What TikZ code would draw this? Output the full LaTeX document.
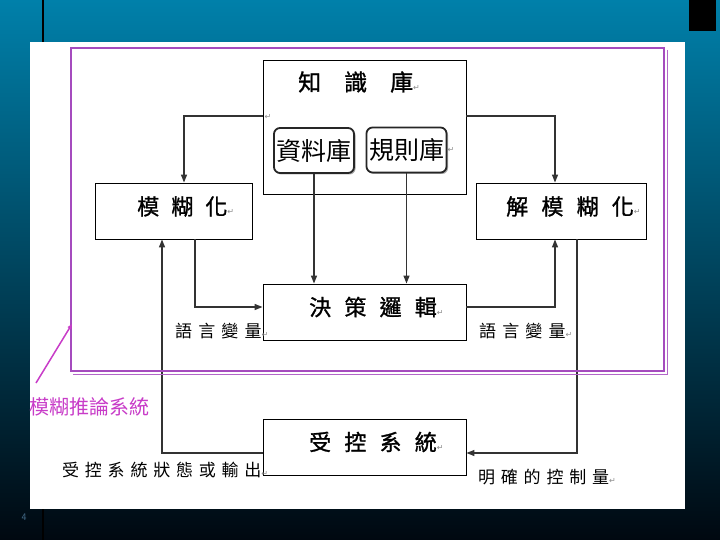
\documentclass[tikz,border=0pt]{standalone}
\usepackage{fontspec}
\usetikzlibrary{arrows.meta,positioning,shadows}
\newfontfamily\cjk{Noto Sans CJK TC}
\newfontfamily\cjkb[FakeBold=1.2]{Noto Sans CJK TC}
\newfontfamily\symf{DejaVu Sans}
\definecolor{slidetop}{RGB}{0,128,170}
\definecolor{slidemid}{RGB}{0,95,125}
\definecolor{slidebot}{RGB}{0,8,16}
\definecolor{frameviolet}{RGB}{165,75,190}
\definecolor{notemagenta}{RGB}{200,60,200}
\definecolor{pagegray}{RGB}{70,110,140}
\newcommand\pmark{{\symf\fontsize{8}{8}\selectfont\color{black!45}↵}}
\newcommand\wgap[1][0.55em]{\hspace{#1}}
\tikzset{
  box/.style={draw=black, line width=0.9pt, inner sep=0pt},
  basebox/.style={draw=black!85, line width=1.8pt, rounded corners=6pt, inner sep=0pt,
    minimum width=80pt, minimum height=45pt, font=\cjk\fontsize{25}{25}\selectfont,
    fill=white, drop shadow={shadow xshift=1.5pt, shadow yshift=-1.5pt, fill=black!35, opacity=1}},
  title/.style={anchor=west, inner sep=0pt, font=\cjkb\fontsize{22}{22}\selectfont},
  tag/.style={anchor=west, inner sep=0pt, font=\cjk\fontsize{17}{17}\selectfont},
  flow/.style={-{Triangle[length=8pt,width=6pt]}, line width=1.3pt, draw=black!80},
}
\begin{document}
\begin{tikzpicture}[x=1pt, y=-1pt]
    % --- 背景 ---
    \useasboundingbox (0,0) rectangle (720,540);
    \shade[top color=slidetop, middle color=slidemid, bottom color=slidebot] (0,0) rectangle (720,540);
    \draw[black, line width=2.7pt] (43,0) -- (43,540);
    \fill[black] (689,0) rectangle (716,31);
    \fill[white] (30,42) rectangle (685,509);
    \node[font=\sffamily\fontsize{10}{10}\selectfont, text=pagegray] (pgno) at (24,517) {4};

    % --- 知識庫 ---
    \node[box, minimum width=203pt, minimum height=134pt] (kb) at (364.5,127) {};
    \node[title, font=\cjkb\fontsize{23}{23}\selectfont] (kbt) at (298,82) {知\wgap[1em]識\wgap[1em]庫\pmark};
    \node[inner sep=0pt] (kbm) at (268,117) {\pmark};
    \node[basebox] (db) at (314,150.5) {資料庫};
    \node[basebox] (rb) at (406.5,150) {規則庫};
    \node[anchor=west, inner sep=0pt] (rbm) at (rb.east) {\pmark};

    % --- 模糊化 / 解模糊化 ---
    \node[box, minimum width=157pt, minimum height=56pt] (fz) at (173.5,211) {};
    \node[title] (fzt) at (137,206.5) {模\wgap 糊\wgap 化\pmark};
    \node[box, minimum width=170pt, minimum height=56pt] (dfz) at (561,211) {};
    \node[title] (dfzt) at (506,206.5) {解\wgap[0.6em]模\wgap[0.6em]糊\wgap[0.6em]化\pmark};

    % --- 決策邏輯 / 受控系統 ---
    \node[box, minimum width=203pt, minimum height=56pt] (dl) at (364.5,312) {};
    \node[title] (dlt) at (309,307) {決\wgap[0.6em]策\wgap[0.6em]邏\wgap[0.6em]輯\pmark};
    \node[box, minimum width=203pt, minimum height=56pt] (cs) at (364.5,447) {};
    \node[title] (cst) at (309,442) {受\wgap[0.6em]控\wgap[0.6em]系\wgap[0.6em]統\pmark};

    % --- 連線 ---
    \draw[flow] ([yshift=11pt]kb.west) -| ([xshift=10.5pt]fz.north);
    \draw[flow] ([yshift=11pt]kb.east) -| ([xshift=-6pt]dfz.north);
    \draw[flow] (db.south) -- (db.south |- dl.north);
    \draw[flow] (rb.south) -- (rb.south |- dl.north);
    \draw[flow] ([xshift=21.5pt]fz.south) |- ([yshift=5pt]dl.west);
    \draw[flow] ([yshift=5pt]dl.east) -| ([xshift=-6pt]dfz.south);
    \draw[flow] ([xshift=16pt]dfz.south) |- ([yshift=-6pt]cs.east);
    \draw[flow] ([yshift=-6pt]cs.west) -| ([xshift=-11.5pt]fz.south);

    % --- 標籤 ---
    \node[tag] (lvl) at (175,331) {語\wgap[0.36em]言\wgap[0.36em]變\wgap[0.36em]量\pmark};
    \node[tag] (lvr) at (479,331) {語\wgap[0.36em]言\wgap[0.36em]變\wgap[0.36em]量\pmark};
    \node[tag] (outl) at (62,470) {受\wgap[0.34em]控\wgap[0.34em]系\wgap[0.34em]統\wgap[0.34em]狀\wgap[0.34em]態\wgap[0.34em]或\wgap[0.34em]輸\wgap[0.34em]出\pmark};
    \node[tag] (ctrl) at (478,477) {明\wgap[0.34em]確\wgap[0.34em]的\wgap[0.34em]控\wgap[0.34em]制\wgap[0.34em]量\pmark};

    % --- 模糊推論系統 外框 ---
    \draw[frameviolet, line width=2pt] (71,48) rectangle (664,371);
    \draw[frameviolet!85, line width=0.8pt] (667,50) -- (667,374) -- (73,374);
    \node[anchor=west, inner sep=0pt, text=notemagenta, font=\cjk\fontsize{20}{20}\selectfont] (fis) at (29,407) {模糊推論系統};
    \coordinate (fistail) at (36,383);
    \coordinate (fistip) at (72,324);
    \draw[-{Triangle[length=5pt,width=4pt]}, notemagenta, line width=1.5pt] (fistail) -- (fistip);
\end{tikzpicture}
\end{document}
